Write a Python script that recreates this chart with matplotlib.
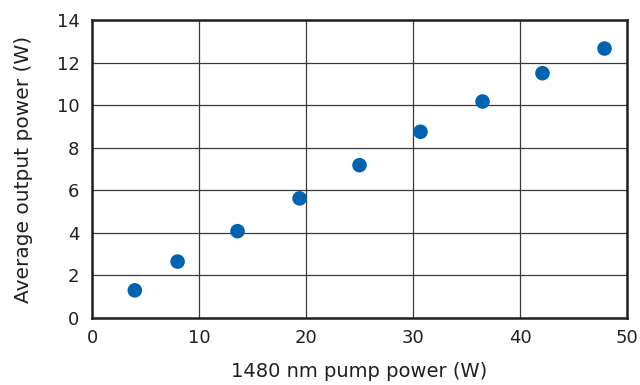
import matplotlib
matplotlib.use("Agg")
import matplotlib.pyplot as plt

# pump power (W) vs average output power (W)
pump_power = [4.0, 8.0, 13.6, 19.4, 25.0, 30.7, 36.5, 42.1, 47.9]
output_power = [1.3, 2.65, 4.08, 5.62, 7.18, 8.75, 10.17, 11.5, 12.66]

x_ticks = [0, 10, 20, 30, 40, 50]
y_ticks = [0, 2, 4, 6, 8, 10, 12, 14]

plt.rcParams['font.family'] = ['DejaVu Sans']

fig = plt.figure(figsize=(6.4, 3.85), dpi=100)
ax = fig.add_axes([92 / 640, 1 - 318 / 385, 535 / 640, 298 / 385])

ax.scatter(pump_power, output_power, s=110, color='#0063b1', zorder=3,
           edgecolors='none', clip_on=False)

ax.set_xlim(0, 50)
ax.set_ylim(0, 14)
ax.set_xticks(x_ticks)
ax.set_yticks(y_ticks)
ax.grid(True, color='#3a3a3a', linewidth=0.9)
ax.set_axisbelow(True)
ax.tick_params(length=0, labelsize=13, colors='#231f20')
ax.tick_params(axis='x', pad=8)
ax.tick_params(axis='y', pad=9)

for sp in ax.spines.values():
    sp.set_linewidth(1.8)
    sp.set_color('#231f20')

ax.set_xlabel('1480 nm pump power (W)', fontsize=14, color='#231f20', labelpad=11)
ax.set_ylabel('Average output power (W)', fontsize=14.5, color='#231f20', labelpad=17)

fig.savefig('out.png', dpi=100)
